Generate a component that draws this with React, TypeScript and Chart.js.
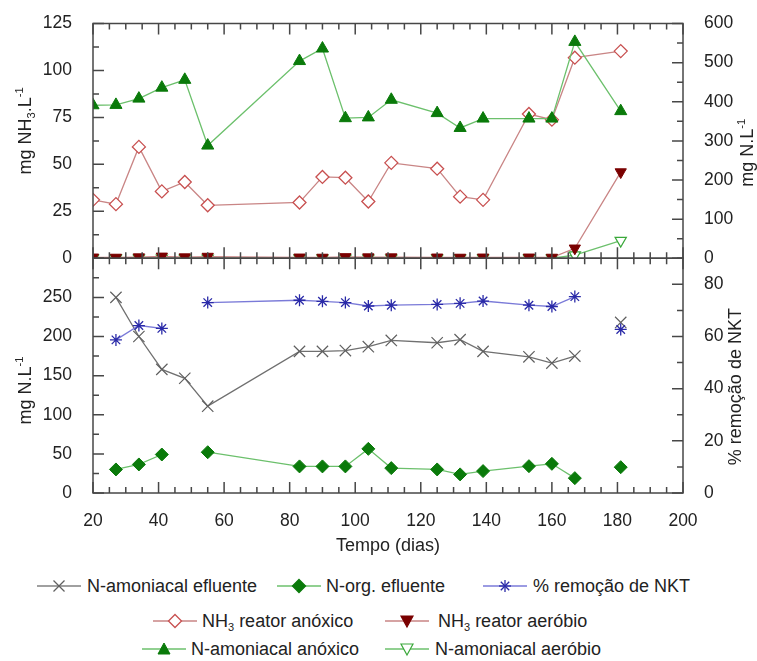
import React, { useEffect, useRef } from 'react';
import { Chart, registerables } from 'chart.js';

Chart.register(...registerables);

// ---------------- DATA ----------------
const days = [20, 27, 34, 41, 48, 55, 83, 90, 97, 104, 111, 125, 132, 139, 153, 160, 167, 181];

// top panel (left axis: mg NH3.L-1)
const nh3ReatorAnoxico = [31.1, 28.8, 59.3, 35.6, 40.6, 28.2, 29.7, 43.3, 42.9, 30.2, 50.8, 47.7, 32.8, 31.1, 76.8, 73.8, 106.8, 110.3];
const nh3ReatorAerobio = [0.5, 0.4, 0.6, 1.0, 0.6, 0.9, 0.5, 0.4, 0.7, 0.6, 0.6, 0.5, 0.4, 0.5, 0.5, 0.4, 5.3, 45.9];
// top panel (right axis: mg N.L-1)
const nAmoniacalAnoxico = [391, 392, 408, 436, 456, 288, 504, 536, 358, 360, 405, 371, 333, 357, 357, 357, 553, 376];
const nAmoniacalAerobio = [0, 0, 0, 0, 0, 0, 0, 0, 0, 0, 0, 0, 0, 0, 0, 0, 8, 45];

// bottom panel (left axis: mg N.L-1)
const nAmoniacalEfluente = [null, 250, 200, 158, 146.6, 111, 181, 181, 182, 187, 195, 192, 196, 181, 174, 166, 175, 218];
const nOrgEfluente = [null, 30.1, 36.5, 49.2, null, 52.1, 34, 34, 34, 56.4, 31.8, 30.1, 23.8, 28, 34.3, 37.3, 19, 33];
// bottom panel (right axis: % remoção de NKT)
const remocaoNKT = [null, 58.7, 64.2, 63.1, null, 73, 73.9, 73.5, 73, 71.7, 72, 72.3, 72.7, 73.6, 72, 71.5, 75.3, 62.7];

// effluent series are not connected into this day
const gapBeforeDay = 181;

// axis ranges / ticks
const xRange = { min: 20, max: 200, major: 20, minor: 5 };
const yTopLeftRange = { min: 0, max: 125, major: 25, minor: 12.5, hideMax: false };
const yTopRightRange = { min: 0, max: 600, major: 100, minor: 50, hideMax: false };
const yBotLeftRange = { min: 0, max: 300, major: 50, minor: 25, hideMax: true };
const yBotRightRange = { min: 0, max: 90, major: 20, minor: 10, hideMax: true };

// ---------------- STYLE ----------------
const FONT = '"Liberation Sans", Arial, Helvetica, sans-serif';
const TEXT = '#222222';
const AXIS = '#474747';
const W = 757;
const H = 560;

type Part = { t: string; k: 'n' | 'sub' | 'sup' };

function drawRich(ctx: CanvasRenderingContext2D, cx: number, cy: number, parts: Part[], size: number) {
  ctx.save();
  ctx.translate(cx, cy);
  ctx.rotate(-Math.PI / 2);
  const pieces = parts.map((p) => {
    const fs = p.k === 'n' ? size : size * 0.62;
    ctx.font = `${fs}px ${FONT}`;
    return { ...p, fs, w: ctx.measureText(p.t).width };
  });
  const total = pieces.reduce((s, p) => s + p.w, 0);
  let x = -total / 2;
  ctx.fillStyle = TEXT;
  ctx.textBaseline = 'alphabetic';
  ctx.textAlign = 'left';
  for (const p of pieces) {
    ctx.font = `${p.fs}px ${FONT}`;
    const dy = p.k === 'sub' ? size * 0.22 : p.k === 'sup' ? -size * 0.45 : 0;
    ctx.fillText(p.t, x, size * 0.36 + dy);
    x += p.w;
  }
  ctx.restore();
}

const panelsPlugin = {
  id: 'panels',
  afterDatasetsDraw(chart: any) {
    const ctx: CanvasRenderingContext2D = chart.ctx;
    const sx = chart.scales.x;
    const { left, right } = chart.chartArea;
    const MAJ = 11;
    const MIN = 6;
    const panels = [
      { l: chart.scales.yTopL, r: chart.scales.yTopR, lr: yTopLeftRange, rr: yTopRightRange },
      { l: chart.scales.yBotL, r: chart.scales.yBotR, lr: yBotLeftRange, rr: yBotRightRange },
    ];
    ctx.save();
    ctx.strokeStyle = AXIS;
    ctx.lineWidth = 1.5;
    for (const p of panels) {
      const top = p.l.top;
      const bottom = p.l.bottom;
      ctx.beginPath();
      for (let v = xRange.min; v <= xRange.max + 1e-9; v += xRange.minor) {
        const px = sx.getPixelForValue(v);
        const len = Math.abs(v % xRange.major) < 1e-9 ? MAJ : MIN;
        ctx.moveTo(px, top);
        ctx.lineTo(px, top + len);
        ctx.moveTo(px, bottom);
        ctx.lineTo(px, bottom - len);
      }
      for (let v = p.lr.min; v <= p.lr.max + 1e-9; v += p.lr.minor) {
        const py = p.l.getPixelForValue(v);
        const len = Math.abs(v % p.lr.major) < 1e-9 ? MAJ : MIN;
        ctx.moveTo(left, py);
        ctx.lineTo(left + len, py);
      }
      for (let v = p.rr.min; v <= p.rr.max + 1e-9; v += p.rr.minor) {
        const py = p.r.getPixelForValue(v);
        const len = Math.abs(v % p.rr.major) < 1e-9 ? MAJ : MIN;
        ctx.moveTo(right, py);
        ctx.lineTo(right - len, py);
      }
      ctx.stroke();
      ctx.strokeRect(left, top, right - left, bottom - top);
    }
    ctx.restore();

    const tl = chart.scales.yTopL;
    const bl = chart.scales.yBotL;
    const topMid = (tl.top + tl.bottom) / 2;
    const botMid = (bl.top + bl.bottom) / 2;
    drawRich(ctx, left - 68, topMid - 10, [
      { t: 'mg NH', k: 'n' }, { t: '3', k: 'sub' }, { t: '.L', k: 'n' }, { t: '-1', k: 'sup' },
    ], 18);
    drawRich(ctx, left - 68, botMid + 15, [
      { t: 'mg N.L', k: 'n' }, { t: '-1', k: 'sup' },
    ], 18);
    drawRich(ctx, right + 64, topMid + 12, [
      { t: 'mg N.L', k: 'n' }, { t: '-1', k: 'sup' },
    ], 18);
    drawRich(ctx, right + 52, botMid + 11, [
      { t: '% remoção de NKT', k: 'n' },
    ], 18);
  },
};

const pts = (vals: (number | null)[]) => days.map((d, i) => ({ x: d, y: vals[i] }));

const gapSegment = {
  borderColor: (c: any) => (c.p1.parsed.x === gapBeforeDay ? 'rgba(0,0,0,0)' : undefined),
};

function ChartCanvas() {
  const ref = useRef<HTMLCanvasElement | null>(null);
  useEffect(() => {
    if (!ref.current) return;
    const tickFont = { family: FONT, size: 17.5 };
    const yCommon = (range: any, pos: string, stack: string, width: number) => ({
      type: 'linear',
      position: pos,
      stack,
      stackWeight: 1,
      min: range.min,
      max: range.max,
      grid: { display: false },
      border: { display: false },
      ticks: {
        stepSize: range.minor,
        autoSkip: false,
        padding: 13,
        color: TEXT,
        font: tickFont,
        callback: (v: number) => {
          if (Math.abs(v % range.major) > 1e-9) return '';
          if (range.hideMax && v >= range.max - 1e-9) return '';
          return String(v);
        },
      },
      afterFit: (s: any) => {
        s.width = width;
      },
    });
    const chart = new Chart(ref.current, {
      type: 'line',
      data: {
        datasets: [
          {
            label: 'NH3 reator aeróbio',
            data: pts(nh3ReatorAerobio),
            yAxisID: 'yTopL',
            borderColor: '#c98585',
            borderWidth: 1.3,
            pointStyle: 'triangle',
            rotation: 180,
            pointRadius: 6.5,
            pointBackgroundColor: '#7a0000',
            pointBorderColor: '#7a0000',
            pointBorderWidth: 1,
          },
          {
            label: 'N-amoniacal aeróbio',
            data: pts(nAmoniacalAerobio),
            yAxisID: 'yTopR',
            borderColor: '#6cc06c',
            borderWidth: 1.3,
            pointStyle: 'triangle',
            rotation: 180,
            pointRadius: 6.5,
            pointBackgroundColor: '#ffffff',
            pointBorderColor: '#3aa83a',
            pointBorderWidth: 1.2,
          },
          {
            label: 'N-amoniacal anóxico',
            data: pts(nAmoniacalAnoxico),
            yAxisID: 'yTopR',
            borderColor: '#6cc06c',
            borderWidth: 1.3,
            pointStyle: 'triangle',
            pointRadius: 7,
            pointBackgroundColor: '#0a7a0a',
            pointBorderColor: '#0a7a0a',
            pointBorderWidth: 1,
          },
          {
            label: 'NH3 reator anóxico',
            data: pts(nh3ReatorAnoxico),
            yAxisID: 'yTopL',
            borderColor: '#c98585',
            borderWidth: 1.3,
            pointStyle: 'rectRot',
            pointRadius: 6.5,
            pointBackgroundColor: '#ffffff',
            pointBorderColor: '#c85050',
            pointBorderWidth: 1.3,
          },
          {
            label: '% remoção de NKT',
            data: pts(remocaoNKT),
            yAxisID: 'yBotR',
            borderColor: '#7a7ad8',
            borderWidth: 1.3,
            pointStyle: 'star',
            pointRadius: 6,
            pointBorderColor: '#2a2aa8',
            pointBorderWidth: 1.3,
            spanGaps: false,
            segment: gapSegment,
          },
          {
            label: 'N-amoniacal efluente',
            data: pts(nAmoniacalEfluente),
            yAxisID: 'yBotL',
            borderColor: '#707070',
            borderWidth: 1.3,
            pointStyle: 'crossRot',
            pointRadius: 8,
            pointBorderColor: '#606060',
            pointBorderWidth: 1.2,
            spanGaps: false,
            segment: gapSegment,
          },
          {
            label: 'N-org. efluente',
            data: pts(nOrgEfluente),
            yAxisID: 'yBotL',
            borderColor: '#6cc06c',
            borderWidth: 1.3,
            pointStyle: 'rectRot',
            pointRadius: 6.5,
            pointBackgroundColor: '#0a7a0a',
            pointBorderColor: '#0a7a0a',
            pointBorderWidth: 1,
            spanGaps: false,
            segment: gapSegment,
          },
        ],
      },
      options: {
        responsive: false,
        animation: false,
        events: [],
        layout: { padding: { top: 20, left: 0, right: 0, bottom: 0 } },
        plugins: { legend: { display: false }, tooltip: { enabled: false } },
        scales: {
          x: {
            type: 'linear',
            min: xRange.min,
            max: xRange.max,
            grid: { display: false },
            border: { display: false },
            ticks: { stepSize: xRange.major, autoSkip: false, padding: 10, color: TEXT, font: tickFont },
            title: {
              display: true,
              text: 'Tempo (dias)',
              color: TEXT,
              font: { family: FONT, size: 18 },
              padding: { top: 0, bottom: 3.5 },
            },
            afterFit: (s: any) => {
              s.height = 67;
            },
          },
          yBotL: yCommon(yBotLeftRange, 'left', 'left', 93),
          yTopL: yCommon(yTopLeftRange, 'left', 'left', 93),
          yTopR: yCommon(yTopRightRange, 'right', 'right', 74),
          yBotR: yCommon(yBotRightRange, 'right', 'right', 74),
        } as any,
      },
      plugins: [panelsPlugin],
    } as any);
    return () => chart.destroy();
  }, []);
  return <canvas ref={ref} width={W} height={H} style={{ display: 'block', width: W, height: H }} />;
}

// ---------------- LEGEND ----------------
type Marker = 'x' | 'diamondFill' | 'diamondOpen' | 'star' | 'triUp' | 'triDown' | 'triDownOpen';

function MarkerSvg({ kind, line, color }: { kind: Marker; line: string; color: string }) {
  const cx = 22;
  const cy = 9;
  let shape: React.ReactNode = null;
  if (kind === 'x') {
    shape = (
      <g stroke={color} strokeWidth={1.3}>
        <line x1={cx - 5.5} y1={cy - 5.5} x2={cx + 5.5} y2={cy + 5.5} />
        <line x1={cx - 5.5} y1={cy + 5.5} x2={cx + 5.5} y2={cy - 5.5} />
      </g>
    );
  } else if (kind === 'diamondFill' || kind === 'diamondOpen') {
    shape = (
      <polygon
        points={`${cx},${cy - 6.5} ${cx + 6.5},${cy} ${cx},${cy + 6.5} ${cx - 6.5},${cy}`}
        fill={kind === 'diamondFill' ? color : '#ffffff'}
        stroke={color}
        strokeWidth={1.3}
      />
    );
  } else if (kind === 'star') {
    shape = (
      <g stroke={color} strokeWidth={1.3}>
        <line x1={cx - 6} y1={cy} x2={cx + 6} y2={cy} />
        <line x1={cx} y1={cy - 6} x2={cx} y2={cy + 6} />
        <line x1={cx - 4.2} y1={cy - 4.2} x2={cx + 4.2} y2={cy + 4.2} />
        <line x1={cx - 4.2} y1={cy + 4.2} x2={cx + 4.2} y2={cy - 4.2} />
      </g>
    );
  } else if (kind === 'triUp') {
    shape = <polygon points={`${cx},${cy - 6} ${cx + 6},${cy + 5} ${cx - 6},${cy + 5}`} fill={color} stroke={color} />;
  } else {
    shape = (
      <polygon
        points={`${cx},${cy + 6} ${cx + 6},${cy - 5} ${cx - 6},${cy - 5}`}
        fill={kind === 'triDown' ? color : '#ffffff'}
        stroke={color}
        strokeWidth={1.2}
      />
    );
  }
  return (
    <svg width={44} height={18} style={{ display: 'block', flex: 'none' }}>
      <line x1={0} y1={cy} x2={44} y2={cy} stroke={line} strokeWidth={1.3} />
      {shape}
    </svg>
  );
}

const sub3 = <span style={{ fontSize: 11, verticalAlign: -4, lineHeight: 0 }}>3</span>;

const legendItems: { label: React.ReactNode; kind: Marker; line: string; color: string; left: number; top: number; gap: number }[] = [
  { label: 'N-amoniacal efluente', kind: 'x', line: '#808080', color: '#606060', left: 37, top: 586, gap: 6 },
  { label: 'N-org. efluente', kind: 'diamondFill', line: '#6cc06c', color: '#0a7a0a', left: 277, top: 586, gap: 5 },
  { label: '% remoção de NKT', kind: 'star', line: '#7a7ad8', color: '#2a2aa8', left: 483, top: 586, gap: 6 },
  { label: <>NH{sub3} reator anóxico</>, kind: 'diamondOpen', line: '#c98585', color: '#c85050', left: 153, top: 621, gap: 5 },
  { label: <>NH{sub3} reator aeróbio</>, kind: 'triDown', line: '#c98585', color: '#7a0000', left: 385, top: 621, gap: 9 },
  { label: 'N-amoniacal anóxico', kind: 'triUp', line: '#6cc06c', color: '#0a7a0a', left: 142, top: 649, gap: 5 },
  { label: 'N-amoniacal aeróbio', kind: 'triDownOpen', line: '#6cc06c', color: '#3aa83a', left: 385, top: 649, gap: 6 },
];

export default function App() {
  return (
    <div style={{ position: 'absolute', left: 0, top: 0, width: W, height: 661, background: '#ffffff', fontFamily: FONT }}>
      <ChartCanvas />
      {legendItems.map((it, i) => (
        <div
          key={i}
          style={{
            position: 'absolute',
            left: it.left,
            top: it.top - 11,
            height: 22,
            display: 'flex',
            alignItems: 'center',
            whiteSpace: 'nowrap',
            fontSize: 18,
            color: TEXT,
            lineHeight: '22px',
          }}
        >
          <MarkerSvg kind={it.kind} line={it.line} color={it.color} />
          <span style={{ marginLeft: it.gap }}>{it.label}</span>
        </div>
      ))}
    </div>
  );
}
